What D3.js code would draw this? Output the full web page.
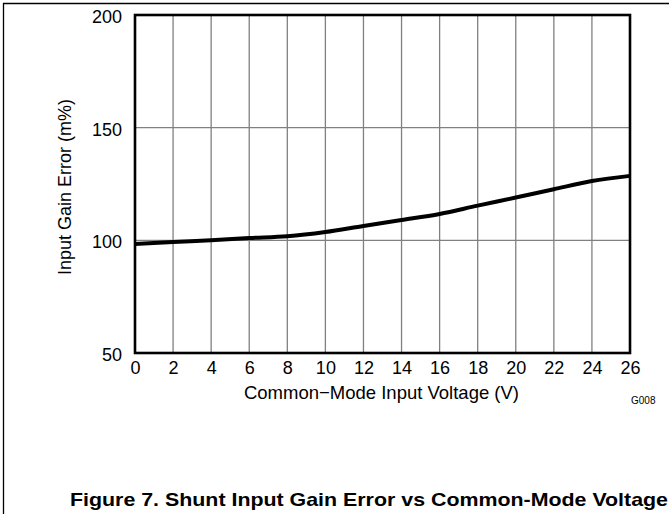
<!DOCTYPE html>
<html>
<head>
<meta charset="utf-8">
<script src="https://cdn.jsdelivr.net/npm/d3@7"></script>
<style>
  html, body { margin: 0; padding: 0; background: #fff; }
  svg { display: block; }
  text { font-family: "Liberation Sans", Arial, Helvetica, sans-serif; fill: #000; }
</style>
</head>
<body>
<svg id="chart" width="669" height="514"></svg>
<script>
// ---- data ----
const voltage = [0, 2, 4, 6, 8, 10, 12, 14, 16, 18, 20, 22, 24, 26];
const gainError = [98.4, 99.3, 100.0, 101.0, 101.8, 103.7, 106.4, 109.0, 111.7, 115.4, 119.0, 122.7, 126.3, 128.6];
const xTicks = [0, 2, 4, 6, 8, 10, 12, 14, 16, 18, 20, 22, 24, 26];
const yTicks = [50, 100, 150, 200];
const xLabel = "Common\u2212Mode Input Voltage (V)";
const yLabel = "Input Gain Error (m%)";
const figTitle = "Figure 7. Shunt Input Gain Error vs Common-Mode Voltage";
const codeLabel = "G008";

// ---- layout ----
const svg = d3.select("#chart");
const L = 135, R = 630, T = 15, B = 353;
const x = d3.scaleLinear().domain([0, 26]).range([L, R]);
const y = d3.scaleLinear().domain([50, 200]).range([B, T]);

// page frame lines (top & left)
svg.append("line").attr("x1", 3).attr("x2", 669).attr("y1", 3.5).attr("y2", 3.5)
  .attr("stroke", "#000").attr("stroke-width", 1.3);
svg.append("line").attr("x1", 3.5).attr("x2", 3.5).attr("y1", 3).attr("y2", 514)
  .attr("stroke", "#000").attr("stroke-width", 1.3);

// grid
const grid = svg.append("g");
grid.selectAll("line.v").data(xTicks.slice(1, -1)).join("line")
  .attr("x1", d => x(d)).attr("x2", d => x(d)).attr("y1", T).attr("y2", B)
  .attr("stroke", "#808080").attr("stroke-width", 1.3);
grid.selectAll("line.h").data(yTicks.slice(1, -1)).join("line")
  .attr("x1", L).attr("x2", R).attr("y1", d => y(d)).attr("y2", d => y(d))
  .attr("stroke", "#808080").attr("stroke-width", 1.3);

// axes (labels only)
const xAxis = d3.axisBottom(x).tickValues(xTicks).tickSize(0).tickPadding(0).tickFormat(d3.format("d"));
const gx = svg.append("g").attr("transform", `translate(0,${B})`).call(xAxis);
gx.select(".domain").remove();
gx.selectAll("text").attr("font-size", 18).attr("dy", null).attr("y", 21)
  .style("font-family", '"Liberation Sans", Arial, sans-serif').attr("fill", "#000");

const yAxis = d3.axisLeft(y).tickValues(yTicks).tickSize(0).tickPadding(13);
const gy = svg.append("g").attr("transform", `translate(${L},0)`).call(yAxis);
gy.select(".domain").remove();
gy.selectAll("text").attr("font-size", 18).attr("dy", "0.42em")
  .style("font-family", '"Liberation Sans", Arial, sans-serif').attr("fill", "#000");

// curve
const line = d3.line().x((d, i) => x(voltage[i])).y(d => y(d)).curve(d3.curveMonotoneX);
svg.append("path").datum(gainError).attr("d", line)
  .attr("fill", "none").attr("stroke", "#000").attr("stroke-width", 4)
  .attr("stroke-linejoin", "round");

// plot frame
svg.append("rect").attr("x", L).attr("y", T).attr("width", R - L).attr("height", B - T)
  .attr("fill", "none").attr("stroke", "#000").attr("stroke-width", 2.6);

// labels
svg.append("text").attr("x", (L + R) / 2 - 1).attr("y", 399).attr("text-anchor", "middle")
  .attr("font-size", 18.5).text(xLabel);
svg.append("text").attr("transform", `translate(71,${(T + B) / 2 + 3}) rotate(-90)`)
  .attr("text-anchor", "middle").attr("font-size", 18).text(yLabel);
svg.append("text").attr("x", 631).attr("y", 404).attr("font-size", 10).text(codeLabel);
svg.append("text").attr("x", 70).attr("y", 506).attr("font-size", 19).attr("font-weight", "bold")
  .attr("textLength", 598).attr("lengthAdjust", "spacingAndGlyphs").text(figTitle);
</script>
</body>
</html>
